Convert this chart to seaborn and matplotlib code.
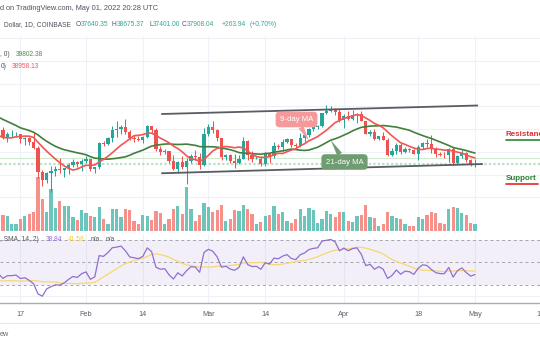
import numpy as np
import pandas as pd
import matplotlib
matplotlib.use("Agg")
import matplotlib.pyplot as plt
import seaborn as sns

# ---------------- data (BTC/USD daily, Coinbase) ----------------
# closes before the first visible candle (Dec 1 2021 .. Jan 11 2022), only feed the indicators
warmup_close = [57230, 56510, 53600, 49150, 49400, 50590, 50570, 50510, 47640, 47140,
                49390, 50100, 46720, 48380, 48890, 47640, 46200, 46880, 46690, 46900,
                48990, 48620, 50820, 50430, 50800, 50700, 50700, 47540, 46460, 47120,
                46210, 47740, 47310, 46430, 45830, 43430, 43080, 41560, 41730, 41860,
                41820, 42730]

# visible candles: Jan 12 2022 .. May 1 2022
open_ = [42730, 43920, 42590, 43080, 43100, 43180, 42250, 42380, 41700, 40700,
         36460, 35070, 36280, 36670, 36960, 36830, 37180, 37720, 38170, 37920,
         38480, 38740, 36950, 37310, 41570, 41410, 42410, 43840, 44040, 44350,
         43560, 42390, 42220, 42070, 42540, 44580, 43940, 40560, 40010, 40120,
         38400, 37030, 38260, 37260, 38330, 39230, 39120, 37700, 43190, 44420,
         43920, 42450, 39140, 39400, 38420, 37990, 38740, 41980, 39440, 38730,
         38810, 37790, 39670, 39290, 41120, 40930, 41770, 42230, 41260, 41000,
         42370, 42890, 43960, 44330, 44500, 46820, 47130, 47440, 47060, 45530,
         46280, 45810, 46410, 46600, 45500, 43170, 43440, 42250, 42760, 42160,
         39530, 40080, 41150, 39940, 40550, 40390, 39680, 40800, 41500, 41360,
         40480, 39710, 39470, 39450, 40430, 38110, 39240, 39740, 38600, 37640.35]
high = [44140, 44460, 43450, 43800, 43480, 43200, 42690, 42580, 43500, 41100,
        36830, 36480, 37550, 37560, 38920, 37240, 38020, 38730, 38380, 38740,
        39270, 38840, 37400, 41770, 41950, 42660, 44500, 45490, 44800, 45820,
        43900, 43000, 42770, 42880, 44750, 44580, 44180, 40960, 40450, 40150,
        39450, 38430, 39270, 38980, 39720, 40290, 39870, 44230, 44950, 45400,
        44100, 42530, 39640, 39690, 39560, 39380, 42600, 42050, 40240, 39350,
        39300, 39940, 39870, 41720, 41480, 42320, 42420, 42280, 41530, 43350,
        42970, 44200, 45090, 44800, 46900, 48190, 48100, 47700, 47600, 46690,
        47210, 47430, 46880, 47200, 45510, 43900, 43970, 42800, 43420, 42420,
        40700, 41560, 41500, 40860, 40700, 40600, 41130, 41760, 42200, 42980,
        40790, 39990, 39930, 40620, 40800, 39470, 40380, 39920, 38800, 38675.37]
low = [42460, 42330, 41730, 42580, 42700, 41540, 41260, 41140, 40570, 35440,
       34010, 34600, 32950, 35710, 36260, 35510, 36160, 37310, 37360, 36640,
       38020, 36630, 36250, 37040, 40990, 41160, 41700, 42670, 43140, 43190,
       42020, 41750, 41880, 41570, 42440, 43320, 40120, 39460, 39640, 38020,
       36830, 36370, 37050, 34320, 38030, 38570, 37040, 37460, 42830, 43350,
       41860, 38660, 38600, 38100, 37160, 37870, 38670, 38550, 38240, 38670,
       37600, 37580, 38130, 38850, 40510, 40140, 41520, 40920, 40500, 40880,
       41760, 42680, 43600, 44080, 44410, 46650, 46950, 46530, 45200, 44220,
       45630, 45530, 45120, 45360, 43110, 42730, 42110, 42120, 42130, 39200,
       39250, 39550, 39560, 39770, 40020, 39560, 38540, 40570, 40810, 39760,
       39180, 39290, 39000, 38200, 37700, 37870, 38880, 38190, 37580, 37401.00]
close = [43920, 42590, 43080, 43100, 43180, 42250, 42380, 41700, 40700, 36460,
         35070, 36280, 36670, 36960, 36830, 37180, 37720, 38170, 37920, 38480,
         38740, 36950, 37310, 41570, 41410, 42410, 43840, 44040, 44350, 43560,
         42390, 42220, 42070, 42540, 44580, 43940, 40560, 40010, 40120, 38400,
         37030, 38260, 37260, 38330, 39230, 39120, 37700, 43190, 44420, 43920,
         42450, 39140, 39400, 38420, 37990, 38740, 41980, 39440, 38730, 38810,
         37790, 39670, 39290, 41120, 40930, 41770, 42230, 41260, 41000, 42370,
         42890, 43960, 44330, 44500, 46820, 47130, 47440, 47060, 45530, 46280,
         45810, 46410, 46600, 45500, 43170, 43440, 42250, 42760, 42160, 39530,
         40080, 41150, 39940, 40550, 40390, 39680, 40800, 41500, 41360, 40480,
         39710, 39470, 39450, 40430, 38110, 39240, 39740, 38600, 37640, 37908.04]
# volume, thousand BTC
volume = [14.1, 12.8, 12.0, 5.6, 5.6, 9.6, 12.0, 13.6, 15.5, 43.2,
          25.6, 14.9, 33.6, 18.7, 24.0, 20.0, 19.7, 11.5, 9.1, 16.8,
          14.1, 12.0, 11.5, 19.2, 9.6, 5.6, 17.3, 17.3, 10.9, 17.3,
          16.8, 8.0, 5.9, 12.8, 12.3, 8.8, 16.0, 14.4, 5.6, 9.6,
          17.9, 19.7, 13.6, 35.2, 17.9, 8.0, 12.8, 22.1, 19.2, 14.9,
          16.8, 20.8, 8.0, 9.3, 16.8, 16.3, 21.1, 17.9, 13.9, 5.3,
          7.5, 12.0, 12.8, 19.7, 13.6, 15.2, 7.7, 6.7, 9.6, 17.3,
          12.0, 18.7, 17.1, 6.7, 9.3, 16.3, 13.3, 10.9, 15.2, 15.5,
          8.0, 7.5, 12.0, 12.5, 20.8, 11.5, 10.4, 4.3, 5.3, 14.9,
          12.0, 10.1, 9.6, 5.6, 4.0, 4.3, 11.5, 9.3, 12.8, 14.9,
          14.4, 6.4, 5.6, 17.9, 18.9, 18.1, 14.4, 12.8, 6.4, 5.9]

tick_pos = [5, 20, 33, 48, 61, 79, 96, 109, 124]
tick_labels = ["17", "Feb", "14", "Mar", "14", "Apr", "18", "May", "16"]

# channel drawn on the chart (date index, price)
channel_x_up = [37.2, 109.7]
channel_up = [46670, 48170]
channel_x_lo = [37.2, 110.8]
channel_lo = [36240, 37870]

# ---------------- derived indicators ----------------
n_warm = len(warmup_close)
x_vis = np.arange(len(close))
x_all = np.arange(-n_warm, len(close))
closes_all = pd.Series(warmup_close + close, dtype=float)
ma9 = closes_all.rolling(9).mean().to_numpy()
ma21 = closes_all.rolling(21).mean().to_numpy()


def wilder_rsi(c, n=14):
    c = np.asarray(c, float)
    d = np.diff(c)
    up = np.where(d > 0, d, 0.0)
    dn = np.where(d < 0, -d, 0.0)
    out = np.full(len(c), np.nan)
    au, ad = up[:n].mean(), dn[:n].mean()
    out[n] = 100 - 100 / (1 + au / ad)
    for k in range(n + 1, len(c)):
        au = (au * (n - 1) + up[k - 1]) / n
        ad = (ad * (n - 1) + dn[k - 1]) / n
        out[k] = 100 - 100 / (1 + au / ad)
    return out


rsi = wilder_rsi(closes_all)
rsi_ma = pd.Series(rsi).rolling(14).mean().to_numpy()

# ---------------- figure ----------------
sns.set_theme(style="white")
plt.rcParams["font.family"] = ["Liberation Sans", "DejaVu Sans"]
W, H = 540, 340
fig = plt.figure(figsize=(W / 100, H / 100), dpi=100)
fig.patch.set_facecolor("white")


def rect(top, bottom):
    return [0, 1 - bottom / H, 1, (bottom - top) / H]


def fx(px):
    return px / W


def fy(py):
    return 1 - py / H


XL, XR = 0.313, 123.88
PLO, PHI = 25729, 60401
UP, DN = "#26a69a", "#ef5350"
GRID = "#eef1f7"

# volume pane (behind)
ax_v = fig.add_axes(rect(36, 231))
ax_v.set_xlim(XL, XR)
ax_v.set_ylim(0, 156)
ax_v.axis("off")

# price pane
ax_p = fig.add_axes(rect(36, 233))
ax_p.patch.set_alpha(0)

# rsi pane
ax_r = fig.add_axes(rect(234, 302.5))
ax_r.patch.set_alpha(0)

for i in tick_pos:
    ax_v.axvline(i, color=GRID, lw=0.8, zorder=0)
    ax_r.axvline(i, color=GRID, lw=0.8, zorder=0)


def price_to_vol_units(p):
    ypix = 233 - (p - PLO) / (PHI - PLO) * 197
    return (231 - ypix) * 0.8


for p in range(32000, 60001, 4000):
    ax_v.axhline(price_to_vol_units(p), color=GRID, lw=0.8, zorder=0)

o = np.array(open_)
c = np.array(close)
up_mask = c >= o
cols = np.where(up_mask, UP, DN)
vcols = np.where(up_mask, "#6cc5bb", "#f5908b")

ax_v.bar(x_vis, volume, width=0.74, color=vcols, linewidth=0, zorder=2)

# price reference lines
ax_p.axhline(ma9[-1], color="#cfe8cf", lw=0.8, zorder=1)
ax_p.axhline(close[-1], color="#b9dfc0", lw=1.6, ls=(0, (1, 1)), zorder=1)

ax_p.vlines(x_vis, low, high, colors=cols, lw=0.75, zorder=3)
ax_p.bar(x_vis, np.maximum(np.abs(c - o), 40), bottom=np.minimum(o, c),
         width=0.74, color=cols, linewidth=0, zorder=3)

sns.lineplot(x=x_all, y=ma21, ax=ax_p, color="#41803c", lw=1.2, zorder=4)
sns.lineplot(x=x_all, y=ma9, ax=ax_p, color="#f05652", lw=1.2, zorder=4)

# channel
ax_p.plot(channel_x_up, channel_up, color="#5a5c63", lw=1.3, zorder=5, solid_capstyle="butt")
ax_p.plot(channel_x_lo, channel_lo, color="#5a5c63", lw=1.3, zorder=5, solid_capstyle="butt")
ax_p.set_xlim(XL, XR)
ax_p.set_ylim(PLO, PHI)
ax_p.axis("off")

# callouts
i9 = 71
ax_p.annotate("9-day MA", xy=(i9, ma9[i9 + n_warm]), xytext=(296.5, H - 119.5),
              textcoords="figure pixels", ha="center", va="center",
              fontsize=5.6, color="white", zorder=6,
              bbox=dict(boxstyle="round,pad=0.55,rounding_size=0.5", fc="#f49a9a", ec="none"),
              arrowprops=dict(arrowstyle="wedge,tail_width=0.7,shrink_factor=0.5",
                              fc="#f49a9a", ec="none", shrinkA=0, shrinkB=0))
i21 = 76
ax_p.annotate("21-day MA", xy=(i21, ma21[i21 + n_warm]), xytext=(344.5, H - 162),
              textcoords="figure pixels", ha="center", va="center",
              fontsize=5.6, color="white", zorder=6,
              bbox=dict(boxstyle="round,pad=0.55,rounding_size=0.5", fc="#6f9c70", ec="none"),
              arrowprops=dict(arrowstyle="wedge,tail_width=0.7,shrink_factor=0.5",
                              fc="#6f9c70", ec="none", shrinkA=0, shrinkB=0))

# RSI pane
ax_r.axhspan(30, 70, color="#7e57c2", alpha=0.09, lw=0, zorder=0)
for lv in (20, 40, 60):
    ax_r.axhline(lv, color=GRID, lw=0.8, zorder=0)
for lv in (30, 50, 70):
    ax_r.axhline(lv, color="#a3a6af", lw=0.7, ls=(0, (3, 3)), zorder=1)
sns.lineplot(x=x_all, y=rsi_ma, ax=ax_r, color="#f6d872", lw=0.9, zorder=2)
sns.lineplot(x=x_all, y=rsi, ax=ax_r, color="#8f6fd0", lw=0.9, zorder=3)
ax_r.set_xlim(XL, XR)
ax_r.set_ylim(14.0, 74.9)
ax_r.set_xlabel("")
ax_r.set_ylabel("")
ax_r.set_yticks([])
ax_r.set_xticks([])
for s in ("top", "left", "right"):
    ax_r.spines[s].set_visible(False)
ax_r.spines["bottom"].set_color("#a9acb4")
ax_r.spines["bottom"].set_linewidth(1.0)

# date labels
for pos, lab in zip(tick_pos, tick_labels):
    ax_r.text(pos, -0.17, lab, transform=ax_r.get_xaxis_transform(), ha="center",
              va="center", fontsize=5.2, color="#5d606b", clip_on=False)

fig.add_artist(plt.Line2D([0, 1], [fy(322.5), fy(322.5)], color="#e6e7ea", lw=0.8))

# ---------------- texts ----------------
TXT = "#50535e"
FS = 4.8
fig.text(fx(0), fy(8.3), "d on TradingView.com, May 01, 2022 20:28 UTC", fontsize=5.3,
         color=TXT, va="center", ha="left")
fig.text(fx(3.7), fy(25), "Dollar, 1D, COINBASE", fontsize=FS, color=TXT, va="center")
for xx, letter, val in [(76, "O", "37640.35"), (112, "H", "38675.37"),
                        (149, "L", "37401.00"), (182, "C", "37908.04")]:
    fig.text(fx(xx), fy(25), letter, fontsize=FS, color=TXT, va="center")
    fig.text(fx(xx + (3.6 if letter == "L" else 4.9)), fy(25), val, fontsize=FS,
             color="#33a797", va="center")
fig.text(fx(222), fy(25), "+263.94", fontsize=FS, color="#33a797", va="center")
fig.text(fx(250), fy(25), "(+0.70%)", fontsize=FS, color="#33a797", va="center")

fig.text(fx(0), fy(54), ", 0)", fontsize=FS, color=TXT, va="center")
fig.text(fx(16), fy(54), "39802.38", fontsize=FS, color="#4f8e47", va="center")
fig.text(fx(1), fy(66), "0)", fontsize=FS, color=TXT, va="center")
fig.text(fx(12), fy(66), "38958.13", fontsize=FS, color="#f05a5a", va="center")

fig.text(fx(0.5), fy(239.5), ", SMA, 14, 2)", fontsize=FS, color=TXT, va="center")
fig.text(fx(45.7), fy(239.5), "38.84", fontsize=FS, color="#8f6fd0", va="center")
fig.text(fx(67.7), fy(239.5), "41.58", fontsize=FS, color="#f1cf3f", va="center")
fig.text(fx(90.7), fy(239.5), "n/a", fontsize=FS, color=TXT, va="center")
fig.text(fx(106), fy(239.5), "n/a", fontsize=FS, color=TXT, va="center")

fig.text(fx(0), fy(334), "ew", fontsize=5.2, color="#6a6d78", va="center")

# Resistance / Support labels
fig.text(fx(506), fy(134.5), "Resistance", fontsize=5.8, color="#d8343a",
         fontweight="bold", va="center")
fig.add_artist(plt.Line2D([fx(506), fx(540)], [fy(139.5), fy(139.5)], color="#3f8f3f", lw=1.3))
fig.text(fx(506), fy(178.5), "Support", fontsize=5.8, color="#2f7a33",
         fontweight="bold", va="center")
fig.add_artist(plt.Line2D([fx(506), fx(538)], [fy(183.5), fy(183.5)], color="#e53935", lw=1.3))

fig.savefig("out.png", dpi=100, facecolor="white")
